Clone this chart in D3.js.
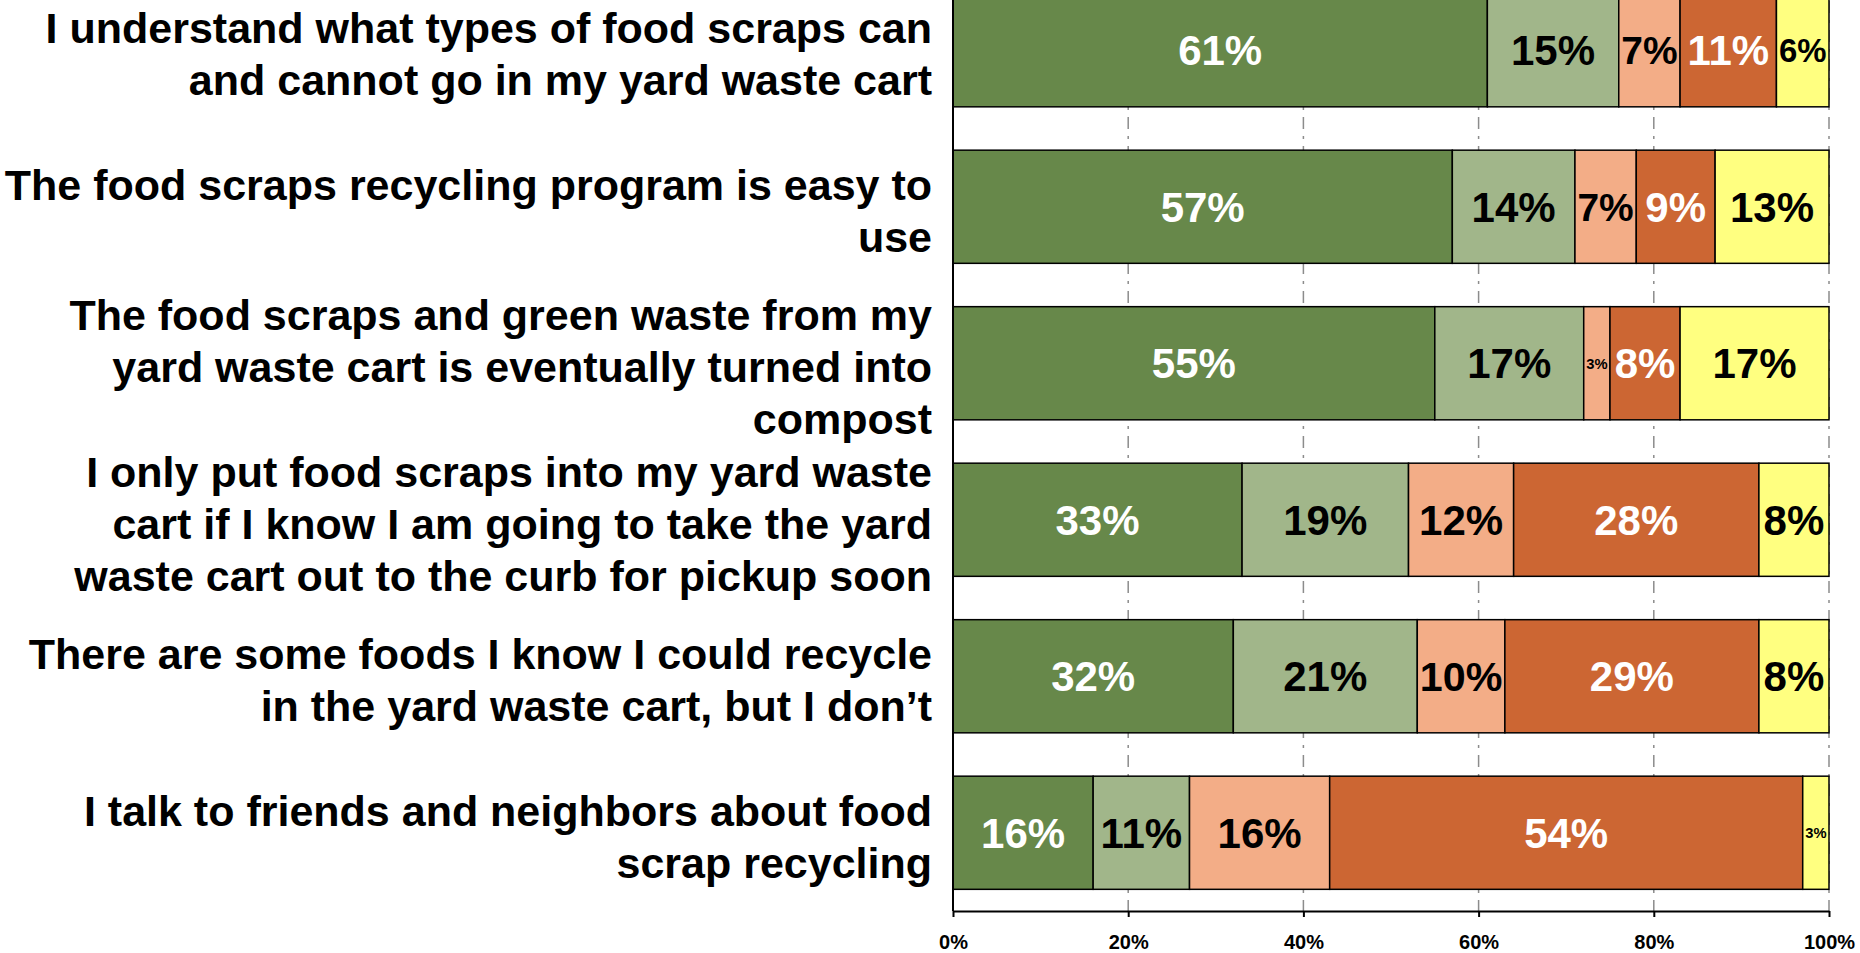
<!DOCTYPE html>
<html>
<head>
<meta charset="utf-8">
<script src="https://cdn.jsdelivr.net/npm/d3@7"></script>
<style>
  html, body { margin: 0; padding: 0; background: #fff; overflow: hidden; }
  svg { display: block; font-family: "Liberation Sans", Arial, sans-serif; }
</style>
</head>
<body>
<svg id="chart" width="1860" height="953"></svg>
<script>
// ---- data ----
const categories = [
  "I understand what types of food scraps can and cannot go in my yard waste cart",
  "The food scraps recycling program is easy to use",
  "The food scraps and green waste from my yard waste cart is eventually turned into compost",
  "I only put food scraps into my yard waste cart if I know I am going to take the yard waste cart out to the curb for pickup soon",
  "There are some foods I know I could recycle in the yard waste cart, but I don\u2019t",
  "I talk to friends and neighbors about food scrap recycling"
];
const categoryLines = [
  ["I understand what types of food scraps can", "and cannot go in my yard waste cart"],
  ["The food scraps recycling program is easy to", "use"],
  ["The food scraps and green waste from my", "yard waste cart is eventually turned into", "compost"],
  ["I only put food scraps into my yard waste", "cart if I know I am going to take the yard", "waste cart out to the curb for pickup soon"],
  ["There are some foods I know I could recycle", "in the yard waste cart, but I don\u2019t"],
  ["I talk to friends and neighbors about food", "scrap recycling"]
];
const seriesNames = ["Strongly agree", "Somewhat agree", "Somewhat disagree", "Strongly disagree", "Don't know"];
const stronglyAgree     = [61, 57, 55, 33, 32, 16];
const somewhatAgree     = [15, 14, 17, 19, 21, 11];
const somewhatDisagree  = [7, 7, 3, 12, 10, 16];
const stronglyDisagree  = [11, 9, 8, 28, 29, 54];
const dontKnow          = [6, 13, 17, 8, 8, 3];
const tickValues = [0, 20, 40, 60, 80, 100];
const tickLabels = ["0%", "20%", "40%", "60%", "80%", "100%"];

// ---- styles ----
const colors = ["#67884A", "#A1B68A", "#F3AD87", "#CC6633", "#FFFF80"];
const labelColors = ["#ffffff", "#000000", "#000000", "#ffffff", "#000000"];

// ---- table ----
const seriesValues = [stronglyAgree, somewhatAgree, somewhatDisagree, stronglyDisagree, dontKnow];
const table = categories.map((c, i) => {
  const row = { category: c };
  seriesNames.forEach((s, j) => row[s] = seriesValues[j][i]);
  return row;
});
const stacked = d3.stack().keys(seriesNames)(table);

const svg = d3.select("#chart");
const x = d3.scaleLinear().domain([0, 100]).range([953, 1829]);
const y = d3.scaleBand().domain(categories).range([-28, 911])
  .paddingInner(0.277).paddingOuter(0.1385);

// gridlines
svg.append("g").selectAll("line").data(tickValues.slice(1)).join("line")
  .attr("x1", d => x(d)).attr("x2", d => x(d))
  .attr("y1", y.range()[0]).attr("y2", y.range()[1])
  .attr("stroke", "#8c8c8c").attr("stroke-width", 1.5)
  .attr("stroke-dasharray", "12,7,3,7");

// bars
const layer = svg.append("g").selectAll("g").data(stacked).join("g")
  .attr("fill", (d, i) => colors[i]);
layer.selectAll("rect").data(d => d).join("rect")
  .attr("x", d => x(d[0]))
  .attr("y", d => y(d.data.category))
  .attr("width", d => x(d[1]) - x(d[0]))
  .attr("height", y.bandwidth())
  .attr("stroke", "#000").attr("stroke-width", 1.5);

// bar value labels
const baseSize = 42;
const valLayer = svg.append("g").selectAll("g").data(stacked).join("g")
  .attr("fill", (d, i) => labelColors[i]);
valLayer.selectAll("text").data(d => d).join("text")
  .attr("x", d => (x(d[0]) + x(d[1])) / 2)
  .attr("y", d => y(d.data.category) + y.bandwidth() / 2)
  .attr("dy", "0.36em")
  .attr("text-anchor", "middle")
  .attr("font-weight", "bold")
  .attr("font-size", baseSize)
  .text(d => (d[1] - d[0]) + "%")
  .each(function(d) {
    const avail = x(d[1]) - x(d[0]) - 5;
    const w = this.getComputedTextLength();
    if (w > avail) d3.select(this).attr("font-size", baseSize * avail / w);
  });

// category labels
const catSize = 43, lineH = 52;
const catG = svg.append("g");
categories.forEach((c, i) => {
  const lines = categoryLines[i];
  const cy = y(c) + y.bandwidth() / 2;
  const t = catG.append("text")
    .attr("text-anchor", "end")
    .attr("font-weight", "bold")
    .attr("font-size", catSize)
    .attr("fill", "#000");
  lines.forEach((ln, k) => {
    t.append("tspan")
      .attr("x", 932)
      .attr("y", cy + (k - (lines.length - 1) / 2) * lineH + 19)
      .text(ln);
  });
});

// left axis line
svg.append("line")
  .attr("x1", x(0)).attr("x2", x(0))
  .attr("y1", y.range()[0]).attr("y2", y.range()[1])
  .attr("stroke", "#000").attr("stroke-width", 2);

// bottom axis
const xAxis = d3.axisBottom(x).tickValues(tickValues)
  .tickFormat((d, i) => tickLabels[i]).tickSize(6).tickSizeOuter(0).tickPadding(18);
const ax = svg.append("g").attr("transform", `translate(0,${y.range()[1]})`).call(xAxis);
ax.select(".domain").attr("stroke", "#000").attr("stroke-width", 2);
ax.selectAll(".tick line").attr("stroke", "#000").attr("stroke-width", 2);
ax.selectAll(".tick text")
  .attr("font-family", "Liberation Sans, Arial, sans-serif")
  .attr("font-size", 20).attr("font-weight", "bold").attr("fill", "#000");
</script>
</body>
</html>
